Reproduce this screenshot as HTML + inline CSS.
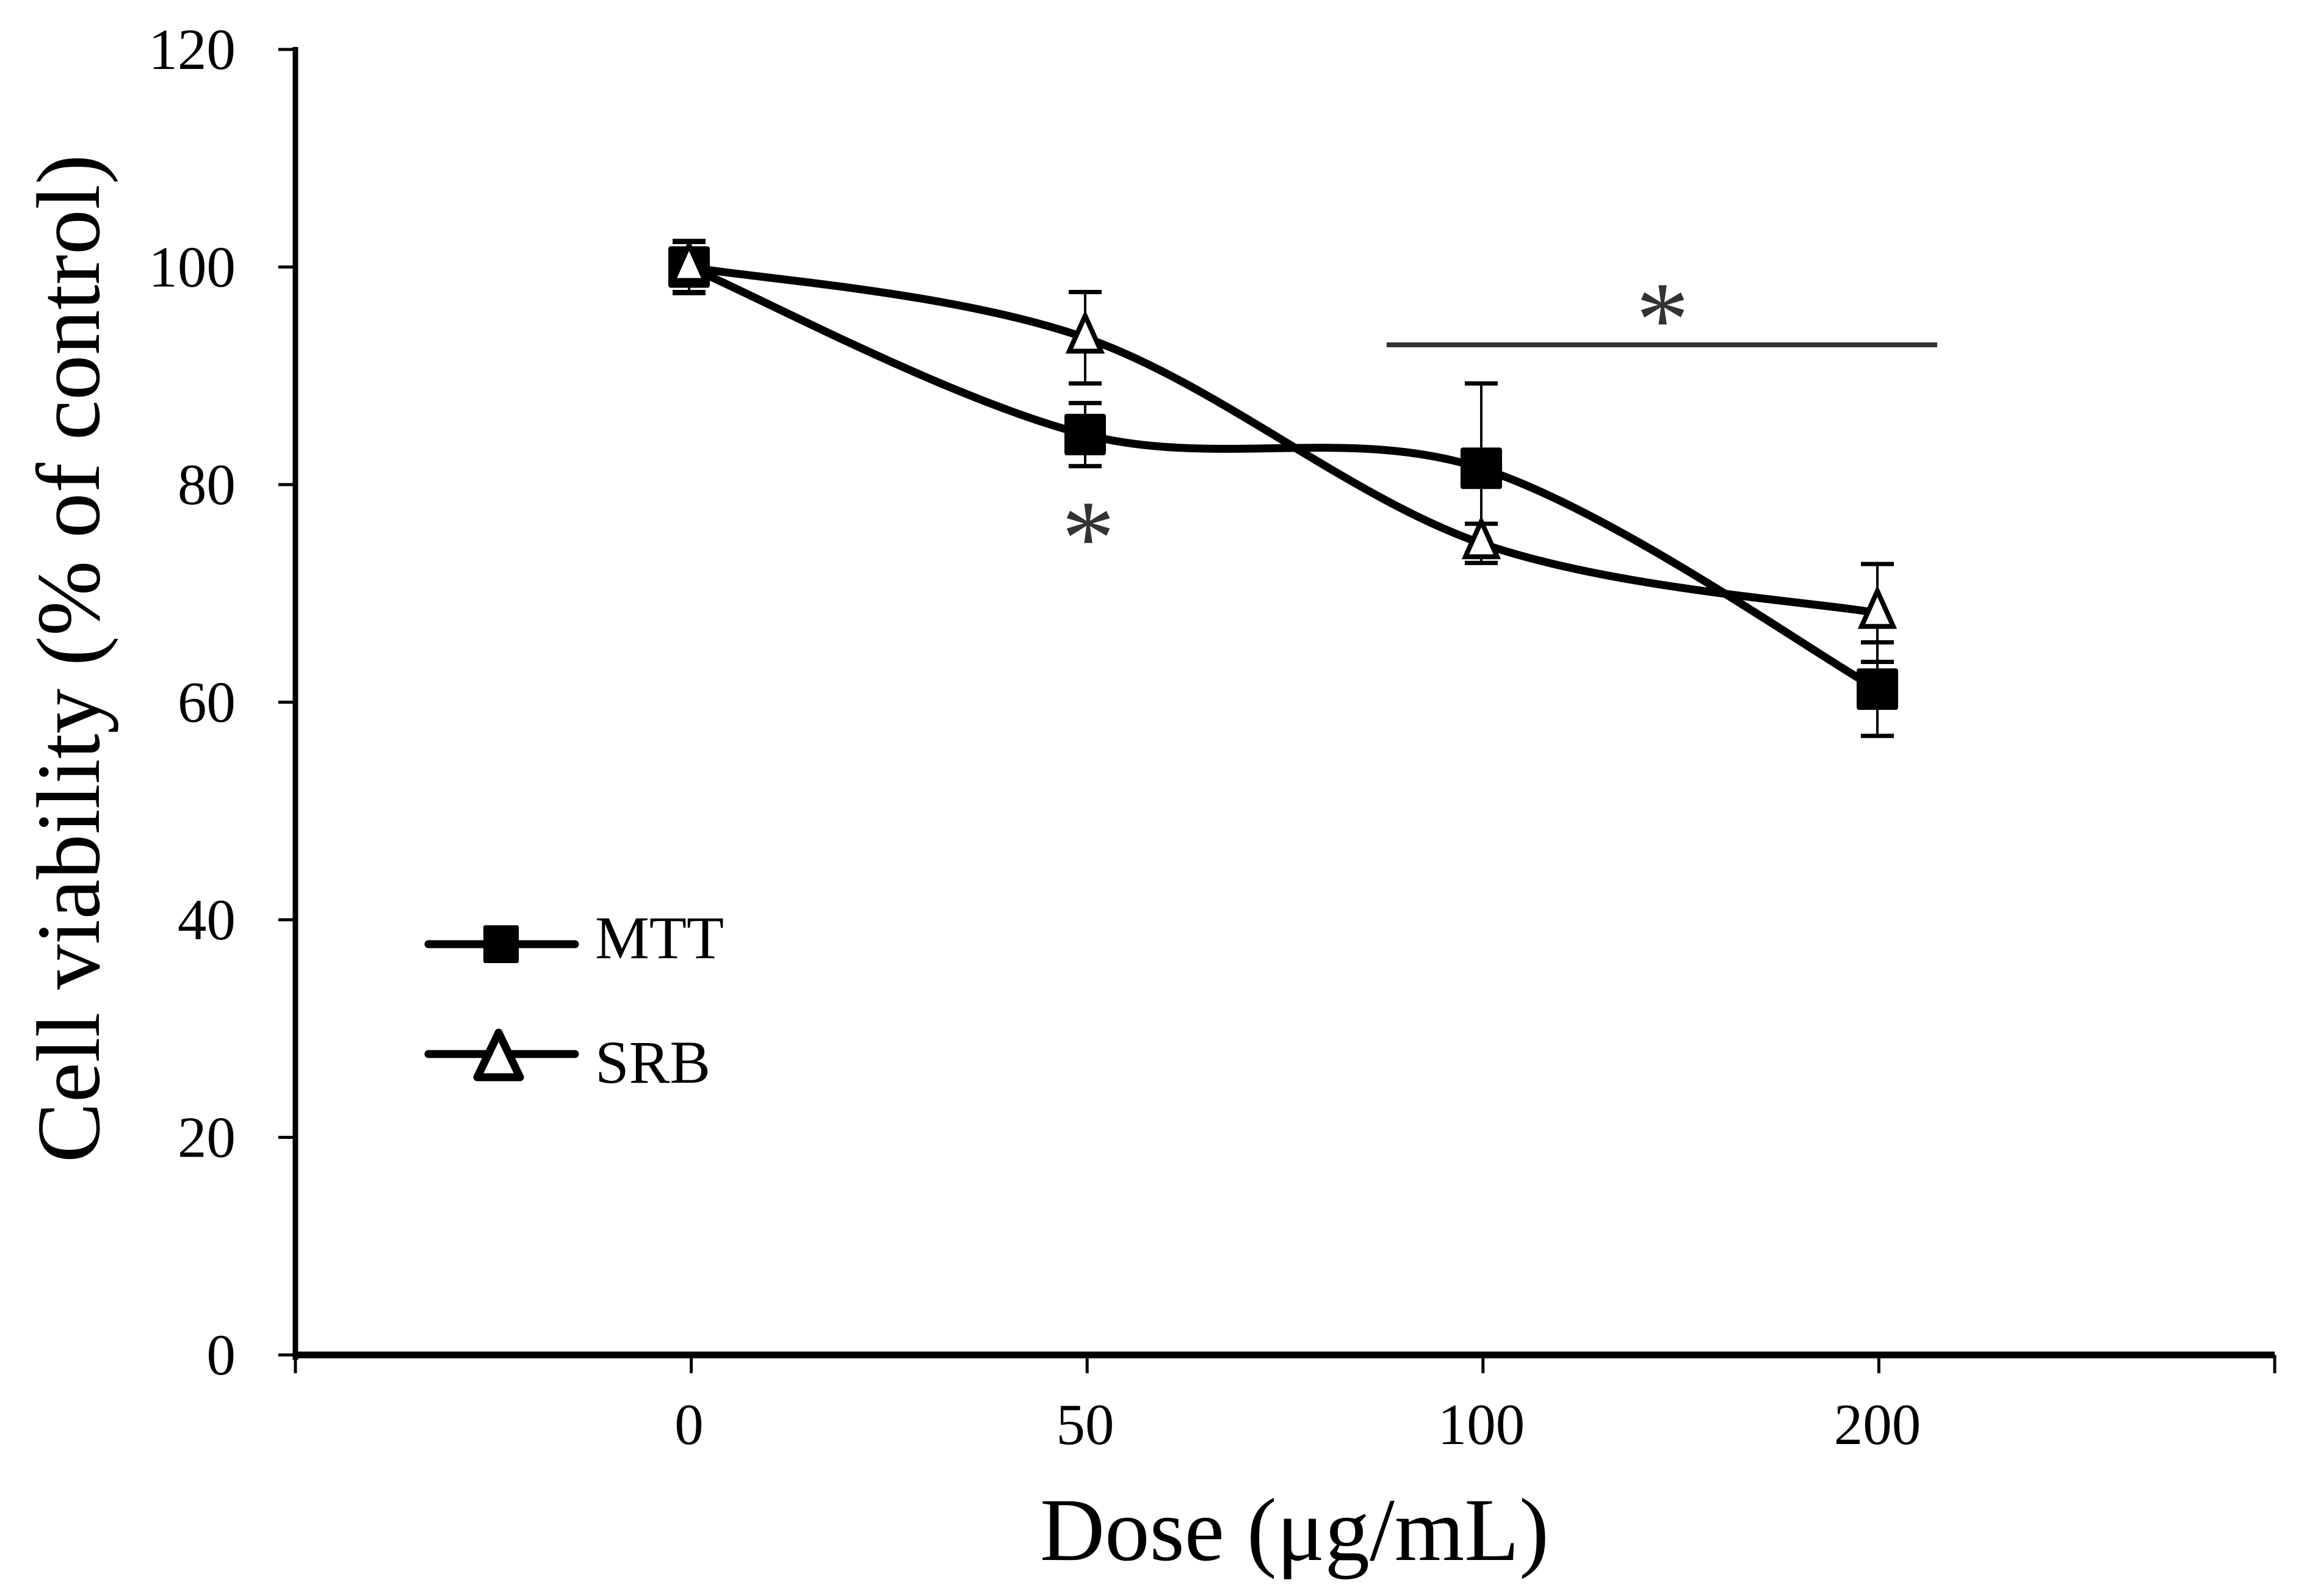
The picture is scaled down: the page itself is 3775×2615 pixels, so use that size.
<!DOCTYPE html>
<html><head><meta charset="utf-8"><style>
html,body{margin:0;padding:0;background:#fff;}
svg{display:block;font-family:"Liberation Serif",serif;}
</style></head><body>
<svg id="chart" width="3775" height="2615" viewBox="0 0 3775 2615" xmlns="http://www.w3.org/2000/svg">
<g id="axes"></g>
<g id="marks"></g>
<text transform="translate(162,1079) rotate(-90)" text-anchor="middle" font-size="148">Cell viability (% of control)</text>
<text x="2121" y="2556" text-anchor="middle" font-size="147">Dose (μg/mL)</text>
<g>
<g>
<line x1="702" y1="1547" x2="942" y2="1547" stroke="#000" stroke-width="13" stroke-linecap="round"/>
<rect x="792" y="1516" width="58" height="62" rx="3" fill="#000"/>
<text x="975" y="1570" font-size="100">MTT</text>
</g>
<g>
<line x1="702" y1="1727" x2="942" y2="1727" stroke="#000" stroke-width="13" stroke-linecap="round"/>
<polygon points="817,1692 852,1765 782,1765" fill="#fff" stroke="#000" stroke-width="13" stroke-linejoin="round"/>
<text x="975" y="1774" font-size="100">SRB</text>
</g>
</g>
<g>
<text x="1783" y="940" text-anchor="middle" font-size="175" fill="#333">*</text>
<line x1="2272" y1="565" x2="3174" y2="565" stroke="#333" stroke-width="8"/>
<text x="2724" y="582" text-anchor="middle" font-size="175" fill="#333">*</text>
</g>
</svg>
<script>
const categories = ["0","50","100","200"];
const yTicks = [0,20,40,60,80,100,120];
const mttValues = [100, 84.6, 81.5, 61.2];
const mttErrors = [2.3, 2.9, 7.8, 4.3];
const srbValues = [100, 93.5, 74.6, 68.2];
const srbErrors = [2.4, 4.2, 1.8, 4.5];

const NS = "http://www.w3.org/2000/svg";
const X0 = 484, X1 = 3727, Y0 = 2220, Y120 = 81;
const catX0 = 1129, catStep = 649;
function xPos(i){ return catX0 + i*catStep; }
function yPos(v){ return Y0 - (v/120)*(Y0-Y120); }
function mk(tag, attrs, parent){
  const e = document.createElementNS(NS, tag);
  for (const k in attrs) e.setAttribute(k, attrs[k]);
  parent.appendChild(e); return e;
}
const axes = document.getElementById('axes');
const marks = document.getElementById('marks');

const ya = mk('line',{x1:X0,y1:Y120-4,x2:X0,y2:Y0+8,stroke:'#000','stroke-width':9},axes);


const xa = mk('line',{x1:X0-4,y1:Y0,x2:X1,y2:Y0,stroke:'#000','stroke-width':11},axes);



yTicks.forEach(v=>{
  const y = yPos(v);
  const t = mk('line',{x1:456,y1:y,x2:X0,y2:y,stroke:'#000','stroke-width':5},axes);
  
  
  const l = mk('text',{x:386,y:y+32,'text-anchor':'end','font-size':95},axes);
  l.textContent = v;
  
  
});
for (let i=0;i<=5;i++){
  const x = X0 + i*(X1-X0)/5;
  const t = mk('line',{x1:x,y1:Y0,x2:x,y2:Y0+30,stroke:'#000','stroke-width':5},axes);
  
  
}
categories.forEach((c,i)=>{
  const l = mk('text',{x:xPos(i),y:2366,'text-anchor':'middle','font-size':95},axes);
  l.textContent = c;
  
  
});

function smoothPath(vals){
  const p = vals.map((v,i)=>[xPos(i), yPos(v)]);
  let d = `M${p[0][0]},${p[0][1]}`;
  for (let i=0;i<p.length-1;i++){
    const p0 = p[i-1]||p[i], p1=p[i], p2=p[i+1], p3=p[i+2]||p[i+1];
    const t = 1/6;
    const c1 = [p1[0]+(p2[0]-p0[0])*t, p1[1]+(p2[1]-p0[1])*t];
    const c2 = [p2[0]-(p3[0]-p1[0])*t, p2[1]-(p3[1]-p1[1])*t];
    d += ` C${c1[0]},${c1[1]} ${c2[0]},${c2[1]} ${p2[0]},${p2[1]}`;
  }
  return d;
}
function errorBars(vals, errs, name){
  vals.forEach((v,i)=>{
    const x = xPos(i), yt = yPos(v+errs[i]), yb = yPos(v-errs[i]);
    const g = mk('g',{},marks);
    
    
    mk('line',{x1:x,y1:yt,x2:x,y2:yb,stroke:'#000','stroke-width':4},g);
    mk('line',{x1:x-27,y1:yt,x2:x+27,y2:yt,stroke:'#000','stroke-width':7},g);
    mk('line',{x1:x-27,y1:yb,x2:x+27,y2:yb,stroke:'#000','stroke-width':7},g);
  });
}
errorBars(mttValues, mttErrors, 'mtt');
errorBars(srbValues, srbErrors, 'srb');

const mttLine = mk('path',{d:smoothPath(mttValues),fill:'none',stroke:'#000','stroke-width':13},marks);


const srbLine = mk('path',{d:smoothPath(srbValues),fill:'none',stroke:'#000','stroke-width':13},marks);



mttValues.forEach((v,i)=>{
  const r = mk('rect',{x:xPos(i)-34,y:yPos(v)-34,width:68,height:68,rx:4,fill:'#000'},marks);
  
  
});
srbValues.forEach((v,i)=>{
  const x = xPos(i), y = yPos(v);
  const t = mk('polygon',{points:`${x},${y-36} ${x+26},${y+22} ${x-26},${y+22}`,fill:'#fff',stroke:'#000','stroke-width':8,'stroke-linejoin':'miter'},marks);
  
  
});
</script>
</body></html>
